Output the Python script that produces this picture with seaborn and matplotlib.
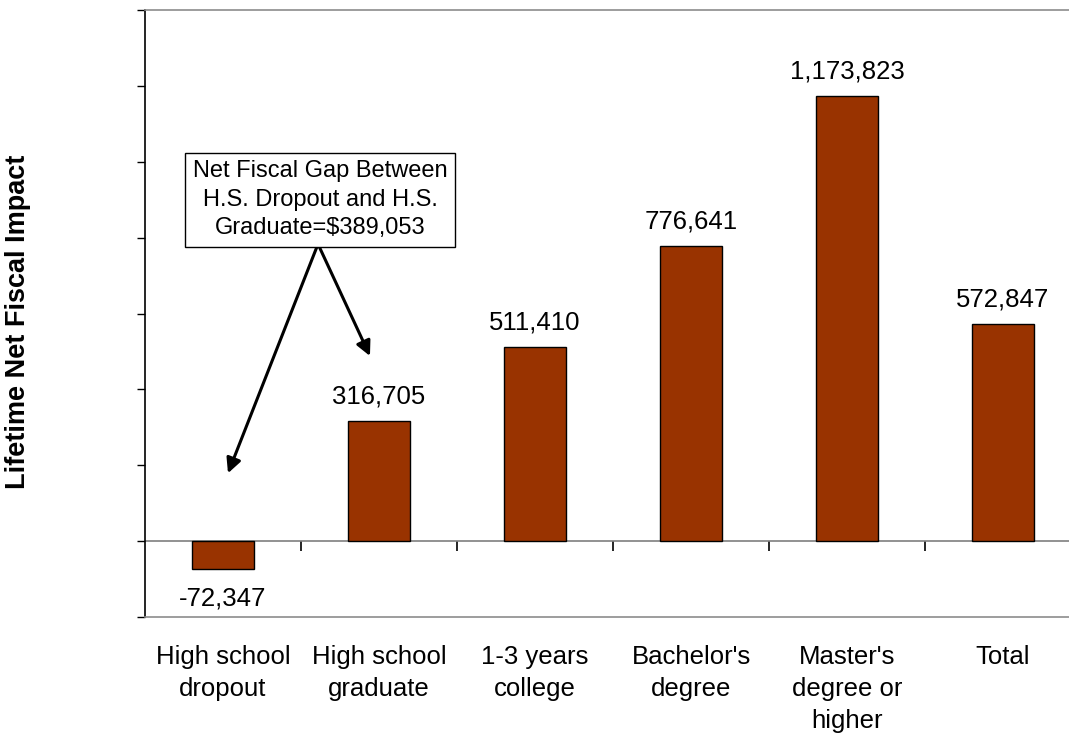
import matplotlib
matplotlib.use("Agg")
import matplotlib.pyplot as plt
import seaborn as sns

categories = ["High school\ndropout", "High school\ngraduate", "1-3 years\ncollege",
              "Bachelor's\ndegree", "Master's\ndegree or\nhigher", "Total"]
values = [-72347, 316705, 511410, 776641, 1173823, 572847]
y_ticks = [-200000, 0, 200000, 400000, 600000, 800000, 1000000, 1200000, 1400000]
gap_note = "Net Fiscal Gap Between\nH.S. Dropout and H.S.\nGraduate=$389,053"

sns.set_theme(style="white")
plt.rcParams["font.family"] = ["Liberation Sans", "DejaVu Sans"]
plt.rcParams["text.color"] = "black"
plt.rcParams["axes.labelcolor"] = "black"
plt.rcParams["xtick.color"] = "black"
plt.rcParams["ytick.color"] = "black"

W, H = 1069, 736
fig = plt.figure(figsize=(W / 100, H / 100), dpi=100)
ax = fig.add_axes([145 / W, (H - 617) / H, 936 / W, 607 / H])

bar_color = "#993300"
sns.barplot(x=list(range(len(values))), y=values, color=bar_color, width=0.4,
            edgecolor="black", linewidth=1, saturation=1, ax=ax, zorder=3)

ax.set_xlim(-0.5, len(values) - 0.5)
ax.set_ylim(y_ticks[0], y_ticks[-1])

# frame: black value axis on the left, grey plot-area border elsewhere
for side in ("top", "bottom", "right"):
    ax.spines[side].set_color("#8c8c8c")
    ax.spines[side].set_linewidth(1.2)
ax.spines["left"].set_color("black")
ax.spines["left"].set_linewidth(1.2)

ax.set_yticks(y_ticks)
ax.set_yticklabels([])
ax.tick_params(axis="y", left=True, length=6, width=1, color="black", direction="out")

ax.set_xticks(range(len(categories)))
ax.set_xticklabels(categories, fontsize=18.5, linespacing=1.43, color="black")
ax.tick_params(axis="x", bottom=False, length=0, pad=20)

# category axis crossing at zero, with tick marks between categories
ax.axhline(0, color="#7f7f7f", lw=1.2, zorder=2)
sec = ax.secondary_xaxis(0, transform=ax.transData)
sec.spines["bottom"].set_visible(False)
sec.set_xticks([i + 0.5 for i in range(len(values) - 1)])
sec.set_xticklabels([])
sec.tick_params(axis="x", length=7, width=1.2, color="black", direction="out")

ax.set_ylabel("Lifetime Net Fiscal Impact", fontsize=19.5, fontweight="bold",
              color="black", labelpad=0)
ax.yaxis.set_label_coords(-114 / 936, (617 - 322) / 607)

for i, v in enumerate(values):
    if v >= 0:
        ax.annotate(f"{v:,}", (i, v), xytext=(0, 9), textcoords="offset points",
                    ha="center", va="bottom", fontsize=18.5, color="black")
    else:
        ax.annotate(f"{v:,}", (i, v), xytext=(0, -13), textcoords="offset points",
                    ha="center", va="top", fontsize=18.5, color="black")

# callout on the dropout / graduate gap
ax.text(0.622, 900000, gap_note, ha="center", va="center", fontsize=17,
        linespacing=1.38, zorder=5, color="black",
        bbox=dict(boxstyle="square,pad=0.32", fc="white", ec="black", lw=1))
arrow_kw = dict(arrowstyle="-|>", color="black", lw=2.2, mutation_scale=22,
                shrinkA=0, shrinkB=0)
ax.annotate("", xy=(0.032, 179000), xytext=(0.609, 783000), arrowprops=arrow_kw, zorder=4)
ax.annotate("", xy=(0.942, 488000), xytext=(0.609, 783000), arrowprops=arrow_kw, zorder=4)

fig.savefig("out.png", dpi=100)
